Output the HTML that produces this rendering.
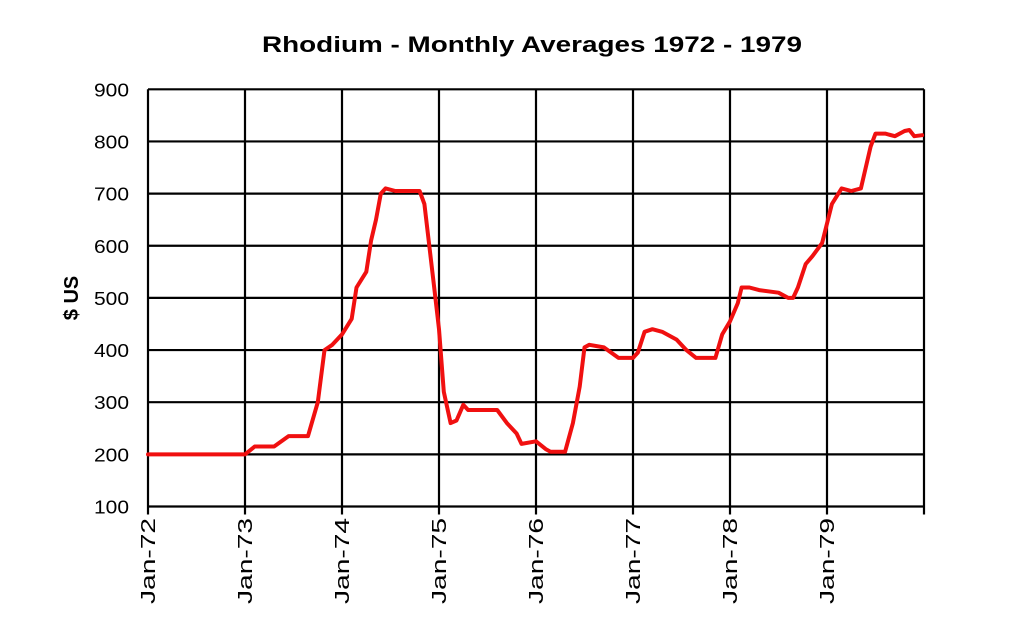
<!DOCTYPE html>
<html><head><meta charset="utf-8"><style>
html,body{margin:0;padding:0;background:#fff;}
svg{display:block;font-family:"Liberation Sans",Arial,sans-serif;}
</style></head><body>
<svg id="c" width="1024" height="638" viewBox="0 0 1024 638" xmlns="http://www.w3.org/2000/svg">
<rect width="1024" height="638" fill="#fff"/>
<text x="532" y="52" text-anchor="middle" font-size="22" font-weight="bold" textLength="540" lengthAdjust="spacingAndGlyphs">Rhodium - Monthly Averages  1972 - 1979</text>
<text transform="translate(78,298) rotate(-90)" text-anchor="middle" font-size="20" font-weight="bold">$ US</text>
<g id="grid" stroke="#000" stroke-width="2.2"></g>
<g id="lab" font-size="18" fill="#000"></g>
<polyline id="line" fill="none" stroke="#f01010" stroke-width="4" stroke-linejoin="round" stroke-linecap="round"/>
</svg>
<script>
var ns="http://www.w3.org/2000/svg";
var g=document.getElementById('grid'),lab=document.getElementById('lab');
function X(t){return 148+97*t;}
function Y(v){return 506.5-(v-100)*0.5215;}
function el(p,tag,a,txt){var e=document.createElementNS(ns,tag);for(var k in a)e.setAttribute(k,a[k]);if(txt)e.textContent=txt;p.appendChild(e);}
for(var v=100;v<=900;v+=100){el(g,'line',{x1:148,x2:924,y1:Y(v),y2:Y(v)});el(lab,'text',{x:129,y:Y(v)+7,'text-anchor':'end','textLength':'35','lengthAdjust':'spacingAndGlyphs'},String(v));}
var yrs=['72','73','74','75','76','77','78','79'];
for(var i=0;i<=8;i++){el(g,'line',{x1:X(i),x2:X(i),y1:Y(900),y2:Y(100)+8});
 if(i<8)el(lab,'text',{transform:'translate('+(X(i)+7)+',518) rotate(-90)','text-anchor':'end','font-size':'20','textLength':'86','lengthAdjust':'spacingAndGlyphs'},'Jan-'+yrs[i]);}
var d=[[0,200],[1,200],[1.1,215],[1.3,215],[1.45,235],[1.65,235],[1.75,300],[1.82,400],[1.9,410],[2,430],[2.1,460],[2.15,520],[2.25,550],[2.3,610],[2.35,650],[2.4,700],[2.45,710],[2.55,705],[2.8,705],[2.85,680],[2.9,600],[2.95,520],[3,440],[3.05,320],[3.12,260],[3.18,265],[3.25,295],[3.3,285],[3.6,285],[3.7,260],[3.8,240],[3.85,220],[4,225],[4.1,210],[4.15,205],[4.3,205],[4.38,260],[4.45,330],[4.5,405],[4.55,410],[4.7,405],[4.85,385],[5,385],[5.05,395],[5.12,435],[5.2,440],[5.3,435],[5.45,420],[5.55,400],[5.65,385],[5.85,385],[5.92,430],[6,455],[6.08,490],[6.12,520],[6.2,520],[6.3,515],[6.5,510],[6.6,500],[6.65,500],[6.7,520],[6.78,565],[6.85,580],[6.95,605],[7.05,680],[7.15,710],[7.25,705],[7.35,710],[7.45,790],[7.5,815],[7.6,815],[7.7,810],[7.8,820],[7.85,822],[7.9,810],[7.98,812]];
document.getElementById('line').setAttribute('points',d.map(function(p){return X(p[0]).toFixed(1)+','+Y(p[1]).toFixed(1);}).join(' '));
</script>
</body></html>
